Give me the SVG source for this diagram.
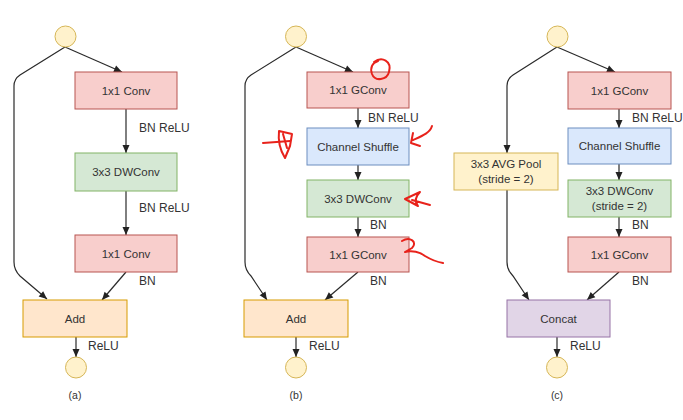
<svg xmlns="http://www.w3.org/2000/svg" width="683" height="420" viewBox="0 0 683 420">
<defs>
<marker id="arr" markerUnits="userSpaceOnUse" markerWidth="10" markerHeight="10" viewBox="0 0 10 10" refX="9" refY="5" orient="auto">
<path d="M1,1.5 L9,5 L1,8.5 Z" fill="#222"/>
</marker>
<style>
text{font-family:"Liberation Sans",Arial,sans-serif;fill:#333;}
.bt{font-size:11.5px;text-anchor:middle;}
.lb{font-size:12px;}
.cap{font-size:10.5px;text-anchor:middle;}
.ca{stroke:#2a2a2a;stroke-width:1.2;fill:none;marker-end:url(#arr);}
.pink{fill:#f8cecc;stroke:#b85450;}
.green{fill:#d5e8d4;stroke:#82b366;}
.blue{fill:#dae8fc;stroke:#6c8ebf;}
.orange{fill:#ffe6cc;stroke:#d79b00;}
.yellow{fill:#fff2cc;stroke:#d6b656;}
.purple{fill:#e1d5e7;stroke:#9673a6;}
.red{stroke:#e8221b;stroke-width:2;fill:none;stroke-linecap:round;stroke-linejoin:round;}
</style>
</defs>
<rect width="683" height="420" fill="#ffffff"/>

<g id="connectors">
<!-- (a) -->
<path class="ca" d="M65,47 L20,75 Q14,79 14,86 L14,262 Q14,270 20,276 L47,299"/>
<path class="ca" d="M65,47 L122,72"/>
<path class="ca" d="M126,109 L126,153"/>
<path class="ca" d="M126,191 L126,235"/>
<path class="ca" d="M126,272 L102,300"/>
<path class="ca" d="M76,337 L76,357"/>
<!-- (b) -->
<path class="ca" d="M296,47 L251,75 Q245,79 245,86 L245,262 Q245,270 251,276 L267,300"/>
<path class="ca" d="M296,47 L353,72"/>
<path class="ca" d="M358,108 L358,128"/>
<path class="ca" d="M358,165 L358,180"/>
<path class="ca" d="M358,217 L358,237"/>
<path class="ca" d="M358,272 L325,300"/>
<path class="ca" d="M296,337 L296,357"/>
<!-- (c) -->
<path class="ca" d="M557,47 L513,75 Q507,79 507,86 L507,153"/>
<path class="ca" d="M507,190 L507,262 Q507,270 513,276 L529,300"/>
<path class="ca" d="M557,47 L615,72"/>
<path class="ca" d="M619,109 L619,128"/>
<path class="ca" d="M619,164 L619,180"/>
<path class="ca" d="M619,217 L619,237"/>
<path class="ca" d="M619,272 L587,300"/>
<path class="ca" d="M557,337 L557,357"/>
</g>

<g id="edge-labels">
<text class="lb" x="139" y="132">BN ReLU</text>
<text class="lb" x="139" y="212">BN ReLU</text>
<text class="lb" x="139" y="285">BN</text>
<text class="lb" x="88" y="350">ReLU</text>
<text class="lb" x="368" y="122">BN ReLU</text>
<text class="lb" x="370" y="229">BN</text>
<text class="lb" x="370" y="285">BN</text>
<text class="lb" x="309" y="350">ReLU</text>
<text class="lb" x="632" y="122">BN ReLU</text>
<text class="lb" x="632" y="229">BN</text>
<text class="lb" x="632" y="285">BN</text>
<text class="lb" x="570" y="350">ReLU</text>
</g>

<!-- (a) nodes -->
<g id="a-in"><circle class="yellow" cx="65.5" cy="36.5" r="10.5"/></g>
<g id="a-conv1"><rect class="pink" x="75" y="72" width="102" height="37"/><text class="bt" x="126" y="94.5">1x1 Conv</text></g>
<g id="a-dwconv"><rect class="green" x="75" y="153" width="102" height="38"/><text class="bt" x="126" y="176">3x3 DWConv</text></g>
<g id="a-conv2"><rect class="pink" x="75" y="235" width="102" height="37"/><text class="bt" x="126" y="257.5">1x1 Conv</text></g>
<g id="a-add"><rect class="orange" x="23" y="300" width="104" height="37"/><text class="bt" x="75" y="322.5">Add</text></g>
<g id="a-out"><circle class="yellow" cx="76" cy="367.5" r="10.5"/></g>
<text class="cap" x="75" y="399">(a)</text>

<!-- (b) nodes -->
<g id="b-in"><circle class="yellow" cx="296" cy="36.5" r="10.5"/></g>
<g id="b-gconv1"><rect class="pink" x="307" y="72" width="102" height="36"/><text class="bt" x="358" y="94">1x1 GConv</text></g>
<g id="b-shuffle"><rect class="blue" x="307" y="128" width="102" height="37"/><text class="bt" x="358" y="150.5">Channel Shuffle</text></g>
<g id="b-dwconv"><rect class="green" x="307" y="180" width="102" height="37"/><text class="bt" x="358" y="202.5">3x3 DWConv</text></g>
<g id="b-gconv2"><rect class="pink" x="307" y="237" width="102" height="35"/><text class="bt" x="358" y="258.5">1x1 GConv</text></g>
<g id="b-add"><rect class="orange" x="244" y="300" width="104" height="37"/><text class="bt" x="296" y="322.5">Add</text></g>
<g id="b-out"><circle class="yellow" cx="296" cy="367.5" r="10.5"/></g>
<text class="cap" x="296" y="399">(b)</text>

<!-- (c) nodes -->
<g id="c-in"><circle class="yellow" cx="557.5" cy="36.5" r="10.5"/></g>
<g id="c-gconv1"><rect class="pink" x="568" y="72" width="103" height="37"/><text class="bt" x="619.5" y="94.5">1x1 GConv</text></g>
<g id="c-shuffle"><rect class="blue" x="568" y="128" width="103" height="36"/><text class="bt" x="619.5" y="150">Channel Shuffle</text></g>
<g id="c-dwconv"><rect class="green" x="568" y="180" width="103" height="37"/><text class="bt" x="619.5" y="195">3x3 DWConv</text><text class="bt" x="619.5" y="210">(stride = 2)</text></g>
<g id="c-gconv2"><rect class="pink" x="568" y="237" width="103" height="35"/><text class="bt" x="619.5" y="258.5">1x1 GConv</text></g>
<g id="c-avgpool"><rect class="yellow" x="454" y="153" width="104" height="37"/><text class="bt" x="506" y="168">3x3 AVG Pool</text><text class="bt" x="506" y="183">(stride = 2)</text></g>
<g id="c-concat"><rect class="purple" x="507" y="300" width="103" height="37"/><text class="bt" x="558.5" y="322.5">Concat</text></g>
<g id="c-out"><circle class="yellow" cx="557" cy="367.5" r="10.5"/></g>
<text class="cap" x="557" y="399">(c)</text>

<!-- handwritten red annotations -->
<g id="annotations">
<path class="red" d="M374,62 C382,56 392,61 389,72 C387,80 375,82 372,74 C370,68 372,63 378,61"/>
<path class="red" d="M263,143 L290,141"/>
<path class="red" d="M279,131 L292,134 L290,146 L285,158 C280,150 278,140 279,131 M283,134 L287,148"/>
<path class="red" d="M432,126 C430,133 422,136 413,140 M413,133 L411,143 L420,146"/>
<path class="red" d="M430,205 L412,200 M420,192 L405,199 L418,206 C414,201 416,196 420,192"/>
<path class="red" d="M402,241 C410,236 418,242 412,248 L405,252 C412,250 420,252 425,256 C430,259 437,262 443,263"/>
</g>
</svg>
